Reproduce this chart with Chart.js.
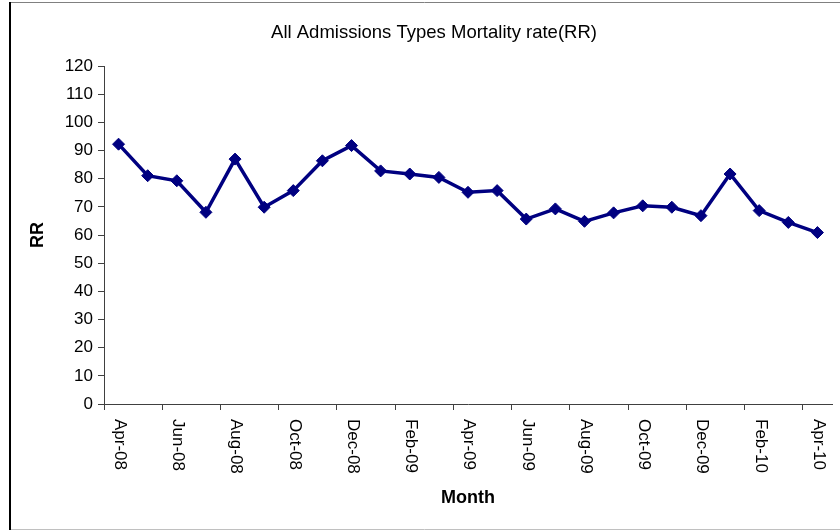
<!DOCTYPE html>
<html>
<head>
<meta charset="utf-8">
<script src="https://cdn.jsdelivr.net/npm/chart.js@4/dist/chart.umd.min.js"></script>
<style>
  html, body { margin: 0; padding: 0; background: #fff; }
  #wrap { width: 840px; height: 531px; position: relative; }
</style>
</head>
<body>
<div id="wrap"><canvas id="c" width="840" height="531"></canvas></div>
<script>
const chartTitle = 'All Admissions Types Mortality rate(RR)';
const xAxisTitle = 'Month';
const yAxisTitle = 'RR';
const months = ['Apr-08','May-08','Jun-08','Jul-08','Aug-08','Sep-08','Oct-08','Nov-08','Dec-08','Jan-09','Feb-09','Mar-09',
                'Apr-09','May-09','Jun-09','Jul-09','Aug-09','Sep-09','Oct-09','Nov-09','Dec-09','Jan-10','Feb-10','Mar-10','Apr-10'];
const rrValues = [92.3, 81.1, 79.3, 68.1, 87.0, 69.9, 75.8, 86.4, 91.8, 82.8, 81.7, 80.5,
                  75.2, 75.8, 65.7, 69.3, 64.9, 67.9, 70.4, 69.9, 66.9, 81.7, 68.7, 64.5, 60.9];
const labelEvery = 2;
const yMin = 0, yMax = 120, yStep = 10;

const FONT = '"Liberation Sans", Arial, sans-serif';

const framePlugin = {
  id: 'frame',
  beforeDraw(chart) {
    const ctx = chart.ctx;
    ctx.save();
    ctx.fillStyle = '#fff';
    ctx.fillRect(0, 0, chart.width, chart.height);
    ctx.strokeStyle = '#808080';
    ctx.lineWidth = 1;
    ctx.beginPath(); ctx.moveTo(9, 2.5); ctx.lineTo(chart.width, 2.5); ctx.stroke();
    ctx.strokeStyle = '#c0c0c0';
    ctx.beginPath(); ctx.moveTo(9, 529.5); ctx.lineTo(chart.width, 529.5); ctx.stroke();
    ctx.strokeStyle = '#000';
    ctx.lineWidth = 2;
    ctx.beginPath(); ctx.moveTo(10, 2); ctx.lineTo(10, 530); ctx.stroke();
    ctx.restore();
  }
};

const xLabelPlugin = {
  id: 'xLabels',
  afterDraw(chart) {
    const xs = chart.scales.x;
    const ctx = chart.ctx;
    ctx.save();
    ctx.font = '17px ' + FONT;
    ctx.fillStyle = '#000';
    ctx.textAlign = 'left';
    ctx.textBaseline = 'middle';
    months.forEach((m, i) => {
      if (i % labelEvery !== 0) return;
      const x = xs.getPixelForValue(i);
      ctx.save();
      ctx.translate(x + 1, xs.top + 15);
      ctx.rotate(Math.PI / 2);
      ctx.fillText(m, 0, 0);
      ctx.restore();
    });
    ctx.restore();
  }
};

new Chart(document.getElementById('c'), {
  type: 'line',
  data: {
    labels: months,
    datasets: [{
      label: yAxisTitle,
      data: rrValues,
      borderColor: '#000080',
      backgroundColor: '#000080',
      borderWidth: 3.5,
      pointStyle: 'rectRot',
      pointRadius: 6,
      pointHoverRadius: 6,
      pointBorderWidth: 1,
      tension: 0,
      fill: false
    }]
  },
  options: {
    responsive: false,
    animation: false,
    devicePixelRatio: 1,
    layout: { padding: { left: 36, right: 8, top: 0, bottom: 0 } },
    plugins: {
      legend: { display: false },
      tooltip: { enabled: false },
      title: {
        display: true,
        text: chartTitle,
        color: '#000',
        font: { family: FONT, size: 18.5, weight: 'normal' },
        padding: { top: 22, bottom: 22 }
      }
    },
    scales: {
      x: {
        type: 'category',
        offset: true,
        grid: {
          offset: true,
          drawOnChartArea: false,
          drawTicks: true,
          tickLength: 6,
          tickColor: (c) => (c.index % labelEvery === 0 ? '#404040' : 'rgba(0,0,0,0)'),
          tickWidth: 1
        },
        border: { display: true, color: '#404040', width: 1 },
        ticks: { display: false },
        title: {
          display: true,
          text: xAxisTitle,
          color: '#000',
          font: { family: FONT, size: 18, weight: 'bold' },
          padding: { top: 0, bottom: 22 }
        },
        afterFit(scale) { scale.height = 127; }
      },
      y: {
        min: yMin,
        max: yMax,
        grid: {
          drawOnChartArea: false,
          drawTicks: true,
          tickLength: 6,
          tickColor: '#404040'
        },
        border: { display: true, color: '#404040', width: 1 },
        ticks: {
          stepSize: yStep,
          color: '#000',
          padding: 5,
          font: { family: FONT, size: 17 }
        },
        title: {
          display: true,
          text: yAxisTitle,
          color: '#000',
          font: { family: FONT, size: 18, weight: 'bold' },
          padding: { top: -8.8, bottom: 0 }
        },
        afterFit(scale) { scale.width = 68; }
      }
    }
  },
  plugins: [framePlugin, xLabelPlugin]
});
</script>
</body>
</html>
